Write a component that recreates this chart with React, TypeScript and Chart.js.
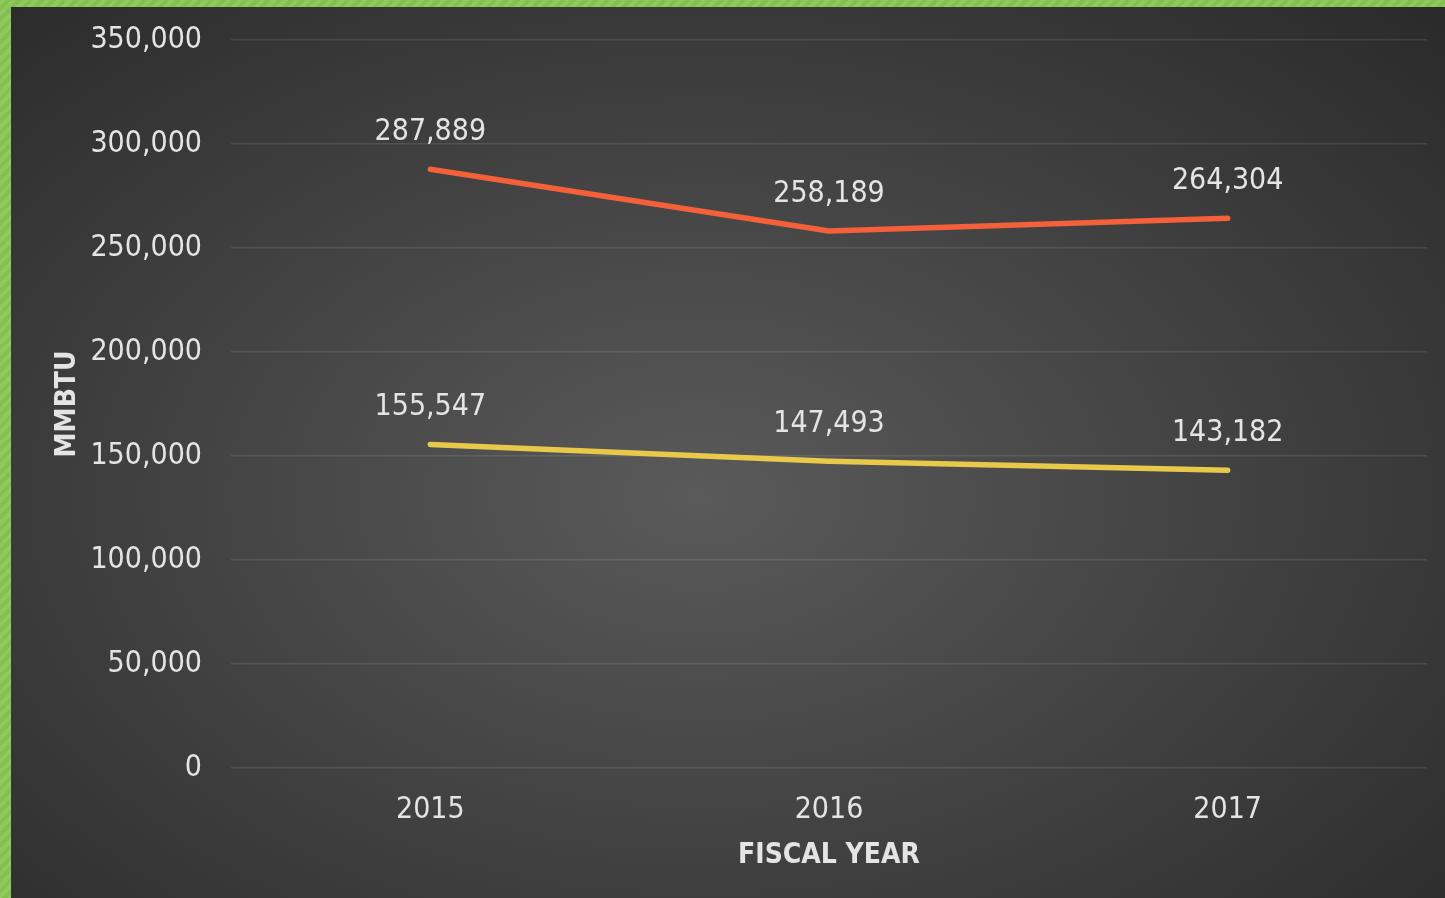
import React, { useEffect, useRef } from "react";
import { Chart, registerables } from "chart.js";

Chart.register(...registerables);

const categories = ["2015", "2016", "2017"];
const seriesTotal = [287889, 258189, 264304];
const seriesSecond = [155547, 147493, 143182];
const yTicks = [0, 50000, 100000, 150000, 200000, 250000, 300000, 350000];

const FONT = "'DejaVu Sans Condensed', 'DejaVu Sans', sans-serif";
const TEXT = "#e4e4e4";

const fmt = (v: number) => v.toLocaleString("en-US");

const dataLabels = {
  id: "dataLabels",
  afterDatasetsDraw(chart: any) {
    const ctx = chart.ctx;
    ctx.save();
    ctx.font = `30px ${FONT}`;
    ctx.fillStyle = TEXT;
    ctx.textAlign = "center";
    ctx.textBaseline = "middle";
    chart.data.datasets.forEach((ds: any, i: number) => {
      const meta = chart.getDatasetMeta(i);
      meta.data.forEach((pt: any, j: number) => {
        ctx.fillText(fmt(ds.data[j]), pt.x, pt.y - 37);
      });
    });
    ctx.restore();
  },
};

export default function App() {
  const ref = useRef<HTMLCanvasElement>(null);
  useEffect(() => {
    if (!ref.current) return;
    const chart = new Chart(ref.current, {
      type: "line",
      data: {
        labels: categories,
        datasets: [
          {
            data: seriesTotal,
            borderColor: "#f4603a",
            borderWidth: 5.5,
            borderCapStyle: "round",
            borderJoinStyle: "round",
            pointRadius: 0,
            tension: 0,
          },
          {
            data: seriesSecond,
            borderColor: "#e9c94a",
            borderWidth: 5.5,
            borderCapStyle: "round",
            borderJoinStyle: "round",
            pointRadius: 0,
            tension: 0,
          },
        ],
      },
      options: {
        animation: false,
        responsive: false,
        devicePixelRatio: 1,
        layout: { padding: { top: 33, right: 18, left: 0, bottom: 0 } },
        plugins: { legend: { display: false }, tooltip: { enabled: false } },
        scales: {
          x: {
            offset: true,
            grid: { display: false, drawTicks: false },
            border: { display: false },
            ticks: { color: TEXT, font: { family: FONT, size: 30 }, padding: 24 },
            title: {
              display: true,
              text: "FISCAL YEAR",
              color: TEXT,
              font: { family: FONT, size: 28, weight: "bold" },
              padding: { top: 0, bottom: 25 },
            },
            afterFit(scale: any) {
              scale.height = 130;
              scale.paddingLeft = 0;
              scale.paddingRight = 0;
            },
          },
          y: {
            min: 0,
            max: 350000,
            afterBuildTicks(scale: any) {
              scale.ticks = yTicks.map((v) => ({ value: v }));
            },
            grid: { color: "rgba(255,255,255,0.1)", lineWidth: 1.5, drawTicks: false },
            border: { display: false },
            ticks: {
              color: TEXT,
              font: { family: FONT, size: 30 },
              padding: 29,
              callback: (v: any) => fmt(Number(v)),
            },
            title: {
              display: true,
              text: "MMBTU",
              color: TEXT,
              font: { family: FONT, size: 28, weight: "bold" },
              padding: { top: 40, bottom: 0 },
            },
            afterFit(scale: any) {
              scale.width = 220;
              scale.paddingTop = 0;
              scale.paddingBottom = 0;
            },
          },
        },
      },
      plugins: [dataLabels],
    });
    return () => chart.destroy();
  }, []);

  return (
    <div
      style={{
        position: "fixed",
        left: 0,
        top: 0,
        width: 1445,
        height: 898,
        background:
          "repeating-linear-gradient(135deg, #8fcb5c 0px, #8fcb5c 4px, #84c050 4px, #84c050 8px)",
      }}
    >
      <div
        style={{
          position: "absolute",
          left: 11,
          top: 7,
          width: 1434,
          height: 891,
          background: "radial-gradient(ellipse farthest-corner at 48% 55%, #5a5a5a 0%, #2a2a2a 100%)",
        }}
      >
        <canvas ref={ref} width={1434} height={891} style={{ display: "block" }} />
      </div>
    </div>
  );
}
